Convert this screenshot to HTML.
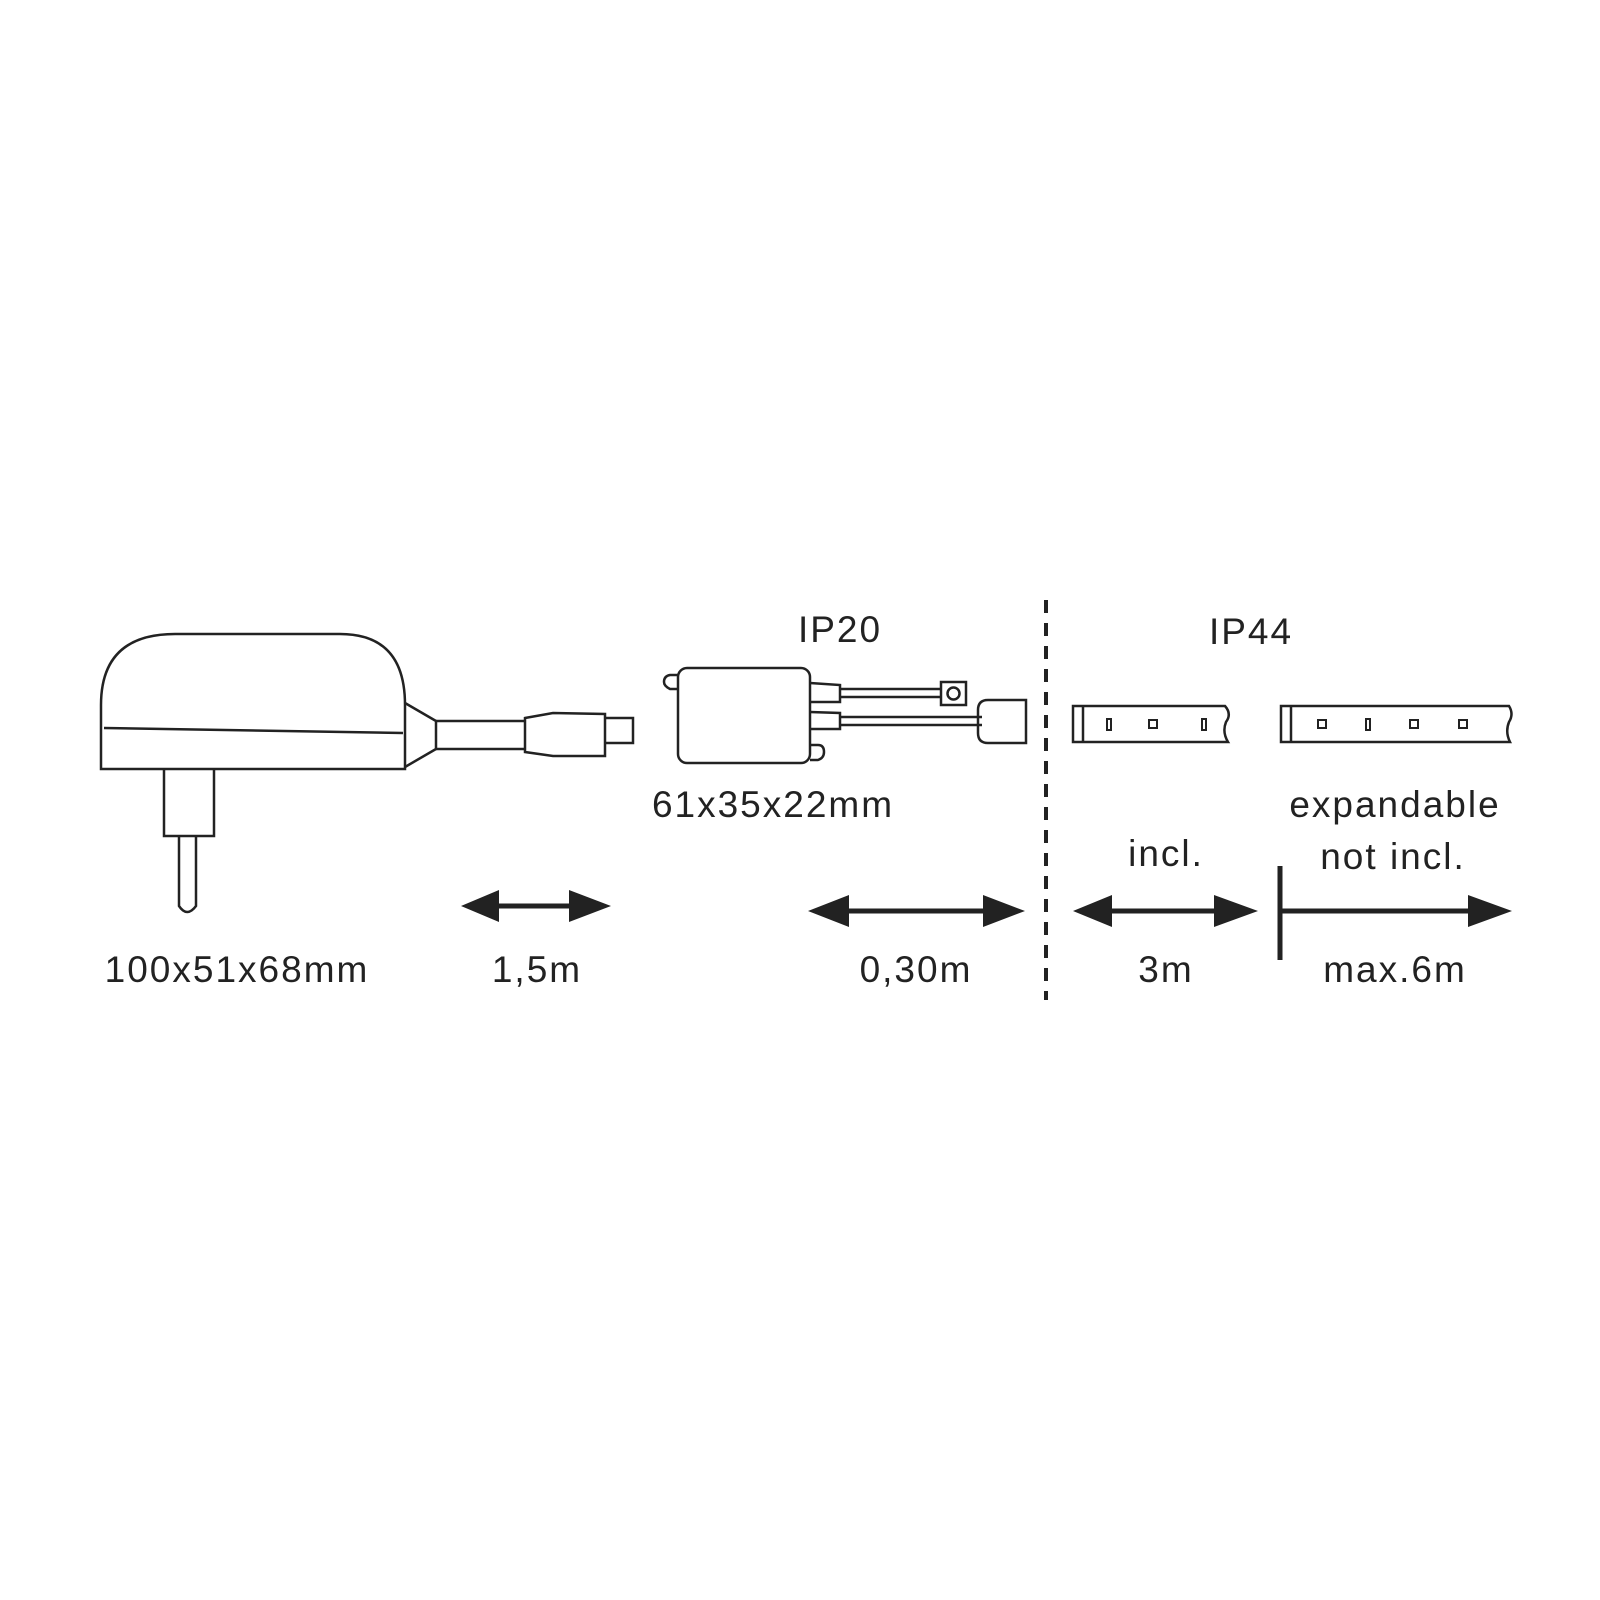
<!DOCTYPE html>
<html><head><style>
html,body{margin:0;padding:0;background:#fff}
svg{display:block}
text{font-family:"Liberation Sans",sans-serif;font-size:37px;fill:#222;letter-spacing:2px;text-anchor:middle}
</style></head><body>
<svg width="1600" height="1600" viewBox="0 0 1600 1600" xmlns="http://www.w3.org/2000/svg">
<g fill="none" stroke="#222" stroke-width="2.5">
<path d="M101 769 L101 705 Q101 634 175 634 L340 634 Q405 634 405 705 L405 769 Z"/>
<path d="M104 728 L403 733"/>
<path d="M405 703 L436 721 L436 749 L405 767"/>
<path d="M436 721 L525 721 M436 749 L525 749"/>
<path d="M525 718 L553 713 L605 714 L605 756 L553 756 L525 752 Z"/>
<path d="M605 718 L633 718 L633 743 L605 743"/>
<path d="M164 769 L164 836 L214 836 L214 769"/>
<path d="M179 836 L179 906 Q187 918 196 906 L196 836"/>
<rect x="678" y="668" width="132" height="95" rx="9"/>
<path d="M678 689 L670 689 Q664 686 664 682 Q664 676 670 675 L678 675"/>
<path d="M810 760 L818 760 Q824 758 824 752 Q824 745 818 745 L810 745"/>
<path d="M810 683 L840 685 L840 702 L810 702 M810 712 L840 713 L840 729 L810 729"/>
<path d="M840 689 L942 689 M840 697 L942 697 M840 717 L982 717 M840 725 L982 725"/>
<rect x="941" y="682" width="25" height="23"/>
<circle cx="953.5" cy="693.5" r="6"/>
<path d="M988 700 L1026 700 L1026 743 L988 743 Q978 743 978 733 L978 710 Q978 700 988 700 Z"/>
</g>
<g fill="none" stroke="#222" stroke-width="2.5" transform="translate(-6,0)">
<path d="M1079 706 L1231 706 Q1238 714 1232 722 Q1228 732 1234 742 L1079 742 Z"/>
<path d="M1089 706 L1089 742"/>
<path d="M1287 706 L1515 706 Q1520 714 1515 722 Q1511 732 1516 742 L1287 742 Z"/>
<path d="M1297 706 L1297 742"/>
<g stroke-width="2">
<rect x="1113" y="719" width="4" height="11"/><rect x="1155" y="720" width="8" height="8"/><rect x="1208" y="719" width="4" height="11"/>
<rect x="1324" y="720" width="8" height="8"/><rect x="1372" y="719" width="4" height="11"/><rect x="1416" y="720" width="8" height="8"/><rect x="1465" y="720" width="8" height="8"/>
</g>
</g>
<path d="M1046 600 L1046 1000" stroke="#222" stroke-width="4" stroke-dasharray="13 10"/>
<g fill="#222" stroke="#222">
<path d="M497 906 L569 906" stroke-width="5"/>
<path d="M461 906 L499 890 L499 922 Z M611 906 L569 890 L569 922 Z" stroke="none"/>
<path d="M847 911 L985 911" stroke-width="5"/>
<path d="M808 911 L849 895 L849 927 Z M1025 911 L983 895 L983 927 Z" stroke="none"/>
<path d="M1110 911 L1215 911" stroke-width="5"/>
<path d="M1073 911 L1112 895 L1112 927 Z M1258 911 L1214 895 L1214 927 Z" stroke="none"/>
<path d="M1280 911 L1470 911" stroke-width="5"/>
<path d="M1280 866 L1280 960" stroke-width="5"/>
<path d="M1512 911 L1468 895 L1468 927 Z" stroke="none"/>
</g>
<text x="840" y="642">IP20</text>
<text x="1251" y="644">IP44</text>
<text x="773" y="817">61x35x22mm</text>
<text x="237" y="982">100x51x68mm</text>
<text x="537" y="982">1,5m</text>
<text x="916" y="982">0,30m</text>
<text x="1166" y="982">3m</text>
<text x="1395" y="982">max.6m</text>
<text x="1166" y="866">incl.</text>
<text x="1395" y="817">expandable</text>
<text x="1393" y="869">not incl.</text>
</svg>
</body></html>
